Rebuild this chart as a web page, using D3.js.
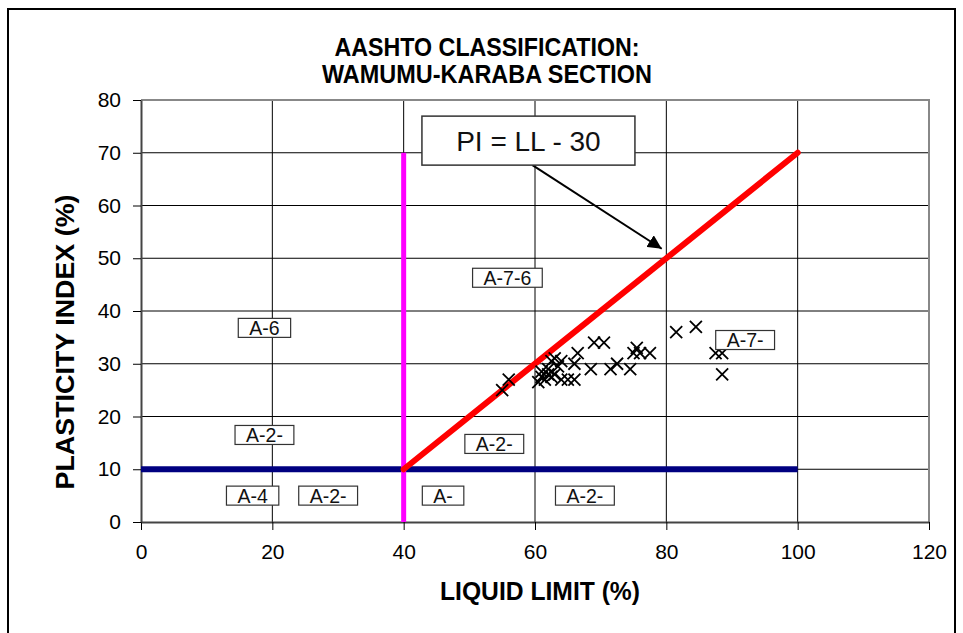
<!DOCTYPE html>
<html>
<head>
<meta charset="utf-8">
<script src="https://cdn.jsdelivr.net/npm/d3@7"></script>
<style>
  html, body { margin: 0; padding: 0; background: #fff; }
  svg { display: block; }
</style>
</head>
<body>
<svg id="chart" width="963" height="633"></svg>
<script>
// ---------- data ----------
const titleLines = ["AASHTO CLASSIFICATION:", "WAMUMU-KARABA SECTION"];
const xTitle = "LIQUID LIMIT (%)";
const yTitle = "PLASTICITY INDEX (%)";
const xTicks = [0, 20, 40, 60, 80, 100, 120];
const yTicks = [0, 10, 20, 30, 40, 50, 60, 70, 80];

// sample points: liquid limit (LL) and plasticity index (PI)
const sampleLL = [55, 56, 60.5, 61, 61, 61.5, 62, 62, 62.5, 62.5, 63, 63, 63.5, 64, 64, 65, 66, 66, 66.5, 68.5, 69, 70.5, 71.5, 72.5, 74.5, 75, 75.5, 76, 77.5, 81.5, 84.5, 87.5, 88.5, 88.5];
const samplePI = [25, 27, 26.5, 27.5, 28.5, 27, 29, 28, 27.5, 30.5, 31, 28, 29.5, 27, 30.5, 27, 27, 30, 32, 29, 34, 34, 29, 30, 29, 32, 33, 32, 32, 36, 37, 32, 32, 28];

// boundary lines
const lineLL40 = [[40, 0], [40, 70]];          // LL = 40
const linePI10 = [[0, 10], [100, 10]];         // PI = 10
const lineA   = [[40, 10], [100, 70]];         // PI = LL - 30

// zone labels (text, LL, PI)
const zoneText = ["A-6", "A-2-", "A-4", "A-2-", "A-7-6", "A-2-", "A-", "A-2-", "A-7-"];
const zoneLL   = [18.8, 18.8, 17, 28.5, 55.8, 53.8, 46, 67.6, 92];
const zonePI   = [36.8, 16.5, 5, 5, 46.3, 14.8, 5, 5, 34.5];

const calloutText = "PI = LL - 30";
const calloutAt = [59, 72.3];
const calloutArrowTo = [79.3, 51.8];

// ---------- drawing ----------
const svg = d3.select("#chart");
const W = 963, H = 633;
const x = d3.scaleLinear().domain([0, 120]).range([141, 929]);
const y = d3.scaleLinear().domain([0, 80]).range([522, 100]);

const sans = "'Liberation Sans', Arial, sans-serif";

svg.append("rect").attr("width", W).attr("height", H).attr("fill", "#fff");

// outer frame
svg.append("path")
  .attr("d", `M8,${H + 5} L8,9 L955,9 L955,${H + 5}`)
  .attr("fill", "none").attr("stroke", "#000").attr("stroke-width", 2);

// title (condensed bold)
const titleWidths = [305, 330];
svg.append("g").selectAll("text").data(titleLines).join("text")
  .attr("x", 487).attr("y", (d, i) => 56 + i * 27)
  .attr("text-anchor", "middle")
  .attr("font-family", sans).attr("font-weight", "bold").attr("font-size", 25)
  .attr("textLength", (d, i) => titleWidths[i]).attr("lengthAdjust", "spacingAndGlyphs")
  .attr("fill", "#000").text(d => d);

// grid
const grid = svg.append("g");
grid.selectAll("line.v").data(xTicks.filter(t => t > 0 && t < 120)).join("line")
  .attr("x1", d => x(d)).attr("x2", d => x(d)).attr("y1", y(0)).attr("y2", y(80))
  .attr("stroke", "#000").attr("stroke-width", 1);
grid.selectAll("line.h").data(yTicks.filter(t => t > 0 && t < 80)).join("line")
  .attr("x1", x(0)).attr("x2", x(120)).attr("y1", d => y(d)).attr("y2", d => y(d))
  .attr("stroke", "#000").attr("stroke-width", 1);

// plot border top/right
svg.append("path")
  .attr("d", `M${x(0)},${y(80)} L${x(120)},${y(80)} L${x(120)},${y(0)}`)
  .attr("fill", "none").attr("stroke", "#888").attr("stroke-width", 2);

// axes
const xAxis = d3.axisBottom(x).tickValues(xTicks).tickSize(8).tickPadding(14).tickSizeOuter(0);
const yAxis = d3.axisLeft(y).tickValues(yTicks).tickSize(8).tickPadding(12).tickSizeOuter(0);
const gx = svg.append("g").attr("transform", `translate(0,${y(0)})`).call(xAxis);
const gy = svg.append("g").attr("transform", `translate(${x(0)},0)`).call(yAxis);
[gx, gy].forEach(g => {
  g.select(".domain").attr("stroke", "#444").attr("stroke-width", 2);
  g.selectAll(".tick line").attr("stroke", "#000").attr("stroke-width", 1);
  g.selectAll(".tick text").attr("font-family", sans).attr("font-size", 21).attr("fill", "#000");
});

// axis titles
svg.append("text").attr("x", 540).attr("y", 600).attr("text-anchor", "middle")
  .attr("font-family", sans).attr("font-weight", "bold").attr("font-size", 25)
  .attr("textLength", 200).attr("lengthAdjust", "spacingAndGlyphs")
  .attr("fill", "#000").text(xTitle);
svg.append("text").attr("transform", `translate(74,342) rotate(-90)`)
  .attr("text-anchor", "middle")
  .attr("font-family", sans).attr("font-weight", "bold").attr("font-size", 25)
  .attr("textLength", 295).attr("lengthAdjust", "spacingAndGlyphs")
  .attr("fill", "#000").text(yTitle);

// boundary lines
const lineGen = d3.line().x(d => x(d[0])).y(d => y(d[1]));
svg.append("path").attr("d", lineGen(linePI10)).attr("stroke", "#000080").attr("stroke-width", 6).attr("fill", "none");
svg.append("path").attr("d", lineGen(lineLL40)).attr("stroke", "#ff00ff").attr("stroke-width", 5).attr("fill", "none");
svg.append("path").attr("d", lineGen(lineA)).attr("stroke", "#ff0000").attr("stroke-width", 6).attr("fill", "none").attr("stroke-linecap", "round");

// sample points (X markers)
const pts = sampleLL.map((v, i) => [v, samplePI[i]]);
const r = 6;
svg.append("g").selectAll("path").data(pts).join("path")
  .attr("d", d => {
    const cx = x(d[0]), cy = y(d[1]);
    return `M${cx - r},${cy - r}L${cx + r},${cy + r}M${cx - r},${cy + r}L${cx + r},${cy - r}`;
  })
  .attr("stroke", "#000").attr("stroke-width", 1.8).attr("fill", "none");

// zone labels
const zones = zoneText.map((t, i) => ({ t, lx: zoneLL[i], ly: zonePI[i] }));
const zg = svg.append("g").selectAll("g").data(zones).join("g")
  .attr("transform", d => `translate(${x(d.lx)},${y(d.ly)})`);
zg.append("rect");
zg.append("text")
  .attr("text-anchor", "middle").attr("dy", "0.36em")
  .attr("font-family", sans).attr("font-size", 19.5).attr("fill", "#111")
  .text(d => d.t);
zg.each(function () {
  const g = d3.select(this);
  const w = g.select("text").node().getComputedTextLength() + 22;
  g.select("rect").attr("x", -w / 2).attr("y", -9.5).attr("width", w).attr("height", 19)
    .attr("fill", "#fff").attr("stroke", "#333").attr("stroke-width", 1.2);
});

// callout
const cx0 = x(calloutAt[0]), cy0 = y(calloutAt[1]);
const bw = 213, bh = 49;
svg.append("defs").append("marker").attr("id", "ah")
  .attr("viewBox", "0 0 10 10").attr("refX", 10).attr("refY", 5)
  .attr("markerWidth", 7).attr("markerHeight", 7).attr("orient", "auto")
  .append("path").attr("d", "M0,0L10,5L0,10z").attr("fill", "#000");
svg.append("line")
  .attr("x1", cx0 + 4).attr("y1", cy0 + bh / 2)
  .attr("x2", x(calloutArrowTo[0])).attr("y2", y(calloutArrowTo[1]))
  .attr("stroke", "#000").attr("stroke-width", 2).attr("marker-end", "url(#ah)");
svg.append("rect").attr("x", cx0 - bw / 2).attr("y", cy0 - bh / 2).attr("width", bw).attr("height", bh)
  .attr("fill", "#fff").attr("stroke", "#333").attr("stroke-width", 1.5);
svg.append("text").attr("x", cx0).attr("y", cy0).attr("dy", "0.36em").attr("text-anchor", "middle")
  .attr("font-family", sans).attr("font-size", 28).attr("fill", "#111").text(calloutText);
</script>
</body>
</html>
